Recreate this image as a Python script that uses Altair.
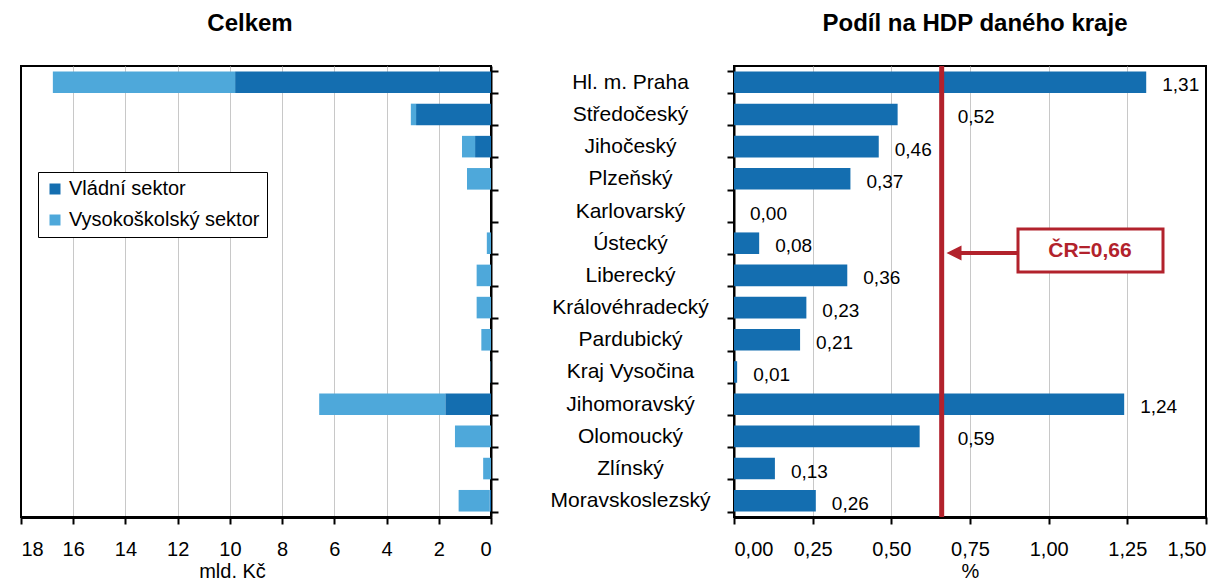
import altair as alt
import pandas as pd

FONT = "Liberation Sans"

regions = ["Hl. m. Praha", "Středočeský", "Jihočeský", "Plzeňský", "Karlovarský",
           "Ústecký", "Liberecký", "Královéhradecký", "Pardubický", "Kraj Vysočina",
           "Jihomoravský", "Olomoucký", "Zlínský", "Moravskoslezský"]
sectors = ["Vládní sektor", "Vysokoškolský sektor"]
vladni = [9.80, 2.87, 0.61, 0.00, 0.00, 0.00, 0.00, 0.00, 0.00, 0.00, 1.75, 0.00, 0.00, 0.05]
vysokoskolsky = [6.98, 0.20, 0.50, 0.92, 0.00, 0.16, 0.55, 0.55, 0.37, 0.02, 4.83, 1.38, 0.30, 1.19]
podil = [1.31, 0.52, 0.46, 0.37, 0.00, 0.08, 0.36, 0.23, 0.21, 0.01, 1.24, 0.59, 0.13, 0.26]
cr_value = 0.66
left_ticks = [0, 2, 4, 6, 8, 10, 12, 14, 16, 18]
right_ticks = [0, 0.25, 0.5, 0.75, 1.0, 1.25, 1.5]
title_left = "Celkem"
title_right = "Podíl na HDP daného kraje"

DARK = "#146EB0"
LIGHT = "#4EA8DA"
RED = "#B2222C"
GRID = "#C8C8C8"

rows = []
for r, v1, v2 in zip(regions, vladni, vysokoskolsky):
    rows.append({"region": r, "sector": sectors[0], "value": v1, "ord": 0})
    rows.append({"region": r, "sector": sectors[1], "value": v2, "ord": 1})
df_left = pd.DataFrame(rows)

df_right = pd.DataFrame({"region": regions, "podil": podil})
df_right["label"] = [f"{v:.2f}".replace(".", ",") for v in podil]
# labels that would run into the national-average line are placed just past it
df_right["label_x"] = [cr_value if (v < cr_value and v + 0.17 > cr_value) else v for v in podil]

ycommon = dict(sort=regions, scale=alt.Scale(paddingInner=0.33, paddingOuter=0.17))

bars_l = alt.Chart(df_left).mark_bar().encode(
    x=alt.X("value:Q", stack="zero",
            scale=alt.Scale(domain=[0, 18], reverse=True, nice=False),
            axis=alt.Axis(values=left_ticks, title="mld. Kč", format="d",
                          labelFontSize=20, titleFontSize=20, titleFontWeight="normal",
                          titleX=211, titlePadding=2,
                          tickSize=7, tickWidth=2, tickColor="black",
                          domainWidth=3, domainColor="black", labelPadding=15,
                          labelColor="black", titleColor="black",
                          grid=True, gridColor=GRID, gridWidth=1,
                          gridOpacity={"condition": {"test": "datum.value == 0 || datum.value == 18", "value": 0}, "value": 1})),
    y=alt.Y("region:N", axis=alt.Axis(orient="right", labels=False, title=None,
                                       tickBand="extent", tickSize=7, tickWidth=2,
                                       tickColor="black", domainWidth=2, domainColor="black"),
            **ycommon),
    color=alt.Color("sector:N", scale=alt.Scale(domain=sectors, range=[DARK, LIGHT]),
                    legend=alt.Legend(title=None, orient="none", legendX=17, legendY=106,
                                      symbolType="square", symbolSize=121, symbolStrokeWidth=0,
                                      labelFontSize=20, labelColor="black", labelLimit=0,
                                      padding=7, rowPadding=11, strokeColor="black",
                                      fillColor="white", labelOffset=4)),
    order=alt.Order("ord:Q"),
)
tl_df = pd.DataFrame({"t": [title_left]})
title_l = alt.Chart(tl_df).mark_text(fontSize=24, fontWeight="bold", font=FONT, color="black",
                                     align="center", baseline="middle").encode(
    x=alt.value(229), y=alt.value(-42), text="t:N")
left = alt.layer(bars_l, title_l).properties(width=470, height=451)

xr = alt.X("podil:Q", scale=alt.Scale(domain=[0, 1.5], nice=False),
           axis=alt.Axis(values=right_ticks, title="%",
                         labelExpr="replace(format(datum.value, '.2f'), '.', ',')",
                         labelFontSize=20, titleFontSize=20, titleFontWeight="normal",
                         titlePadding=2,
                         tickSize=7, tickWidth=2, tickColor="black",
                         domainWidth=3, domainColor="black", labelPadding=15,
                         labelColor="black", titleColor="black",
                         grid=True, gridColor=GRID, gridWidth=1,
                         gridOpacity={"condition": {"test": "datum.value == 0 || datum.value == 1.5", "value": 0}, "value": 1}))
yr = alt.Y("region:N", axis=alt.Axis(orient="left", title=None, labelAlign="center",
                                      labelPadding=97, labelFontSize=21, labelColor="black",
                                      labelLimit=0, tickBand="extent", tickSize=7, tickWidth=2,
                                      tickColor="black", domainWidth=2, domainColor="black"),
           **ycommon)

bars_r = alt.Chart(df_right).mark_bar(color=DARK).encode(x=xr, y=yr)
labels_r = alt.Chart(df_right).mark_text(align="left", baseline="middle", dx=16, dy=3,
                                         fontSize=19, font=FONT, color="black").encode(
    x="label_x:Q", y=alt.Y("region:N", sort=regions), text="label:N")

cr_df = pd.DataFrame({"cr": [cr_value], "txt": ["ČR=" + f"{cr_value:.2f}".replace(".", ",")]})
cr_rule = alt.Chart(cr_df).mark_rule(color=RED, strokeWidth=5).encode(x="cr:Q")
box = alt.Chart(cr_df).mark_rect(fill="white", stroke=RED, strokeWidth=3).encode(
    x=alt.value(284), x2=alt.value(429), y=alt.value(163), y2=alt.value(206))
box_txt = alt.Chart(cr_df).mark_text(color=RED, fontSize=21, fontWeight="bold", font=FONT,
                                     align="center", baseline="middle").encode(
    x=alt.value(356), y=alt.value(185), text="txt:N")
arrow_line = alt.Chart(cr_df).mark_rule(color=RED, strokeWidth=4).encode(
    x=alt.value(226), x2=alt.value(284), y=alt.value(187))
arrow_head = alt.Chart(cr_df).mark_point(shape="M-1,0L1,-1L1,1Z", filled=True, color=RED,
                                         opacity=1, size=225).encode(
    x=alt.value(220), y=alt.value(187))
tr_df = pd.DataFrame({"t": [title_right]})
title_r = alt.Chart(tr_df).mark_text(fontSize=24, fontWeight="bold", font=FONT, color="black",
                                     align="center", baseline="middle").encode(
    x=alt.value(241), y=alt.value(-42), text="t:N")

right = alt.layer(bars_r, labels_r, cr_rule, arrow_line, arrow_head, box, box_txt,
                  title_r).properties(width=472, height=451)

chart = alt.hconcat(left, right, spacing=49).properties(
    padding={"left": 11, "top": 3, "right": 0, "bottom": 0}
).configure(font=FONT).configure_view(stroke="black", strokeWidth=2)

chart.save("out.html", embed_options={"renderer": "svg", "actions": False})
